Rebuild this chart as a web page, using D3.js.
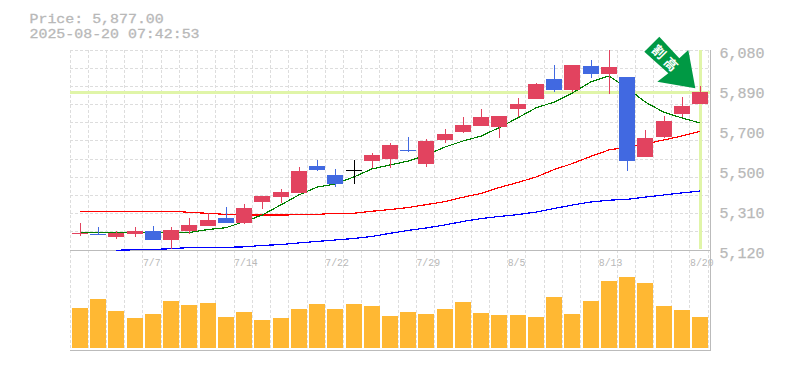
<!DOCTYPE html>
<html><head><meta charset="utf-8">
<script src="https://cdn.jsdelivr.net/npm/d3@7"></script>
<style>html,body{margin:0;padding:0;background:#fff}svg{display:block}text{font-family:"Liberation Mono",monospace;fill:#b8b8b8}</style>
</head><body><div id="c"></div>
<script>
const xLabels={4:"7/7",9:"7/14",14:"7/22",19:"7/29",24:"8/5",29:"8/13",34:"8/20"};
const yTicks=[6080,5890,5700,5500,5310,5120];
const open =[5197,5197,5182,5197,5211,5168,5211,5235,5274,5250,5350,5374,5394,5523,5480,5504,5547,5557,5600,5533,5648,5686,5715,5710,5797,5845,5941,5888,6003,5965,5950,5566,5662,5773,5821];
const close=[5202,5193,5202,5211,5168,5216,5240,5264,5250,5322,5379,5398,5499,5504,5437,5504,5576,5624,5595,5643,5677,5720,5758,5763,5821,5917,5888,6008,5965,5998,5547,5658,5739,5811,5877];
const high =[5250,5230,5211,5230,5235,5230,5274,5298,5326,5341,5379,5413,5518,5552,5509,5552,5586,5634,5662,5653,5701,5758,5797,5763,5850,5922,6008,6008,6032,6080,5950,5696,5763,5854,5907];
const low  =[5187,5191,5173,5182,5168,5123,5197,5235,5250,5245,5317,5346,5394,5499,5422,5437,5514,5514,5590,5518,5634,5682,5715,5658,5758,5845,5878,5878,5946,5869,5499,5566,5658,5758,5821];
const ma5  =[5204,5204,5204,5204,5204,5204,5204,5218,5227,5256,5288,5336,5384,5422,5437,5470,5509,5528,5547,5576,5614,5643,5667,5708,5754,5802,5830,5874,5926,5955,5898,5830,5782,5754,5730];
const ma25 =[5306,5306,5306,5306,5306,5306,5301,5296,5291,5288,5288,5288,5289,5291,5296,5296,5306,5314,5324,5338,5352,5373,5392,5420,5444,5470,5506,5535,5569,5600,5614,5629,5648,5667,5690];
const ma75 =[null,null,5119,5121,5123,5126,5132,5133,5133,5135,5142,5146,5154,5161,5168,5175,5185,5200,5214,5226,5240,5257,5271,5281,5290,5302,5319,5336,5350,5359,5363,5374,5384,5394,5403];
const volume=[400,490,370,300,340,470,430,450,310,360,280,300,390,440,390,440,420,320,360,340,390,460,350,330,330,310,510,340,470,670,710,650,420,380,310];
const headerLines=["Price: 5,877.00","2025-08-20 07:42:53"];
const signalLabel="割高";

const W=785,H=370,L=70,R=710,T=50,B=250,VB=348,VT=268;
const svg=d3.select("#c").append("svg").attr("width",W).attr("height",H);
const x=d3.scaleLinear().domain([0,34]).range([80,700]);
const y=d3.scaleLinear().domain([6080,5120]).range([T,B]);
const v=d3.scaleLinear().domain([0,800]).range([VB,VT]);
const gridY=d3.range(12).map(i=>Math.floor(T+i*200/11)+.5);
const gridX=d3.range(36).map(i=>Math.floor(70+i*18.235)+.5);
const grid=svg.append("g").attr("stroke","#ddd").attr("stroke-dasharray","3 2").attr("fill","none");
grid.selectAll(".h").data(gridY).join("line").attr("x1",L).attr("x2",R).attr("y1",d=>d).attr("y2",d=>d);
grid.selectAll(".v").data(gridX).join("line").attr("x1",d=>d).attr("x2",d=>d).attr("y1",T).attr("y2",VB+2);
const cy=Math.round(y(close[34]));
svg.append("rect").attr("x",L).attr("width",R-L).attr("y",cy-1).attr("height",3).attr("fill","#e0f5a8");
svg.append("rect").attr("x",Math.round(x(34))-1).attr("width",3).attr("y",T).attr("height",B-T-1).attr("fill","#e0f5a8");
const ax=svg.append("g").attr("stroke","#bbb").attr("stroke-width",1).attr("fill","none");
ax.append("line").attr("x1",L).attr("x2",R).attr("y1",B+.5).attr("y2",B+.5);
ax.append("line").attr("x1",L).attr("x2",R).attr("y1",VB+2.5).attr("y2",VB+2.5);
ax.append("line").attr("x1",R+.5).attr("x2",R+.5).attr("y1",T).attr("y2",VB+3);
const series=[[ma75,"#0000ff"],[ma25,"#ff0000"],[ma5,"#008000"]];
const line=d3.line().defined(d=>d!=null).x((d,i)=>x(i)).y(d=>y(d));
svg.selectAll(".ma").data(series).join("path").attr("d",d=>line(d[0])).attr("fill","none").attr("stroke",d=>d[1]).attr("stroke-width",1.2).attr("shape-rendering","crispEdges");
const col=i=>close[i]>open[i]?"#e2435f":close[i]<open[i]?"#4169e1":"#000";
const idx=d3.range(close.length);
svg.selectAll(".w").data(idx).join("line").attr("x1",i=>Math.round(x(i))+.5).attr("x2",i=>Math.round(x(i))+.5).attr("y1",i=>Math.round(y(high[i]))).attr("y2",i=>Math.round(y(low[i]))).attr("stroke",col);
svg.selectAll(".b").data(idx).join("rect").attr("x",i=>Math.round(x(i))-8).attr("width",16)
  .attr("y",i=>Math.round(Math.min(y(open[i]),y(close[i]))))
  .attr("height",i=>Math.max(1,Math.round(Math.abs(y(open[i])-y(close[i]))))).attr("fill",col);
svg.selectAll(".vb").data(idx).join("rect").attr("x",i=>Math.round(x(i))-8).attr("width",16).attr("y",i=>v(volume[i])).attr("height",i=>VB-v(volume[i])).attr("fill","#ffb833");
svg.selectAll(".yl").data(yTicks).join("text").attr("x",719.5).attr("y",(d,i)=>T+i*40+8).attr("font-size",15).attr("stroke","#b8b8b8").attr("stroke-width",.25).text(d3.format(","));
svg.selectAll(".xl").data(Object.keys(xLabels)).join("text").attr("x",k=>x(+k)-10).attr("y",266).attr("font-size",11.5)
  .attr("textLength",k=>xLabels[k].length*5.9).attr("lengthAdjust","spacingAndGlyphs").text(k=>xLabels[k]);
svg.selectAll(".hd").data(headerLines).join("text").attr("x",29.5).attr("y",(d,i)=>22.8+i*15.6).attr("font-size",13.7)
  .attr("textLength",d=>d.length*8.95).attr("lengthAdjust","spacingAndGlyphs").attr("stroke","#b8b8b8").attr("stroke-width",.3).text(d=>d);
svg.append("path").attr("d","M659.3 36.7L644.3 51.7L668.3 73.3L657.3 81.7L695.3 88.3L688.3 50L679.3 58.3Z").attr("fill","#009944");
svg.append("text").attr("transform","translate(667,59) rotate(45)").attr("text-anchor","middle").attr("dominant-baseline","central")
  .attr("font-size",13).attr("font-weight",700).attr("letter-spacing",4)
  .style("font-family",'"Noto Sans CJK JP"').style("fill","#fff").text(signalLabel);
</script></body></html>
